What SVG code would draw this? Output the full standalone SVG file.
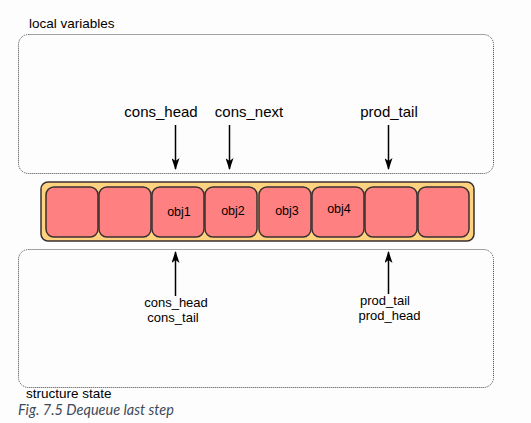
<svg xmlns="http://www.w3.org/2000/svg" width="531" height="423" viewBox="0 0 531 423">
<style>
text{font-family:"Liberation Sans",Arial,sans-serif;fill:#000}
.region{fill:none;stroke:#444;stroke-width:1;stroke-dasharray:1 1}
.cell{fill:#FF8080;stroke:#3a3030;stroke-width:1.5}
.obj{font-size:12.5px;text-anchor:middle}
.var{font-size:15px;text-anchor:middle}
.svar{font-size:13px;text-anchor:middle}
.arr{stroke:#000;stroke-width:1.5;fill:none;marker-end:url(#ah)}
</style>
<defs>
<marker id="ah" viewBox="0 0 12 8" refX="11" refY="4" markerWidth="12" markerHeight="8" markerUnits="userSpaceOnUse" orient="auto">
<path d="M0,0 L12,4 L0,8 L3,4 Z" fill="#000"/>
</marker>
</defs>
<rect width="531" height="423" fill="#fdfdfd"/>
<g id="local-variables">
<rect class="region" x="18.5" y="34.5" width="475" height="139" rx="10"/>
<text x="29" y="28" font-size="13.5">local variables</text>
</g>
<g id="structure-state">
<rect class="region" x="18.5" y="249.5" width="475" height="138" rx="10"/>
<text x="26" y="398" font-size="13.5">structure state</text>
</g>
<g id="buffer">
<rect x="41" y="182" width="433" height="59" rx="7" fill="#FFD280" stroke="#3a3030" stroke-width="1.5"/>
</g>
<g id="cell0"><rect class="cell" x="46" y="187" width="52" height="50" rx="8"/></g>
<g id="cell1"><rect class="cell" x="99" y="187" width="52" height="50" rx="8"/></g>
<g id="cell2"><rect class="cell" x="152" y="187" width="52" height="50" rx="8"/><text class="obj" x="179" y="216">obj1</text></g>
<g id="cell3"><rect class="cell" x="205" y="187" width="52" height="50" rx="8"/><text class="obj" x="233" y="215">obj2</text></g>
<g id="cell4"><rect class="cell" x="259" y="187" width="52" height="50" rx="8"/><text class="obj" x="287" y="215">obj3</text></g>
<g id="cell5"><rect class="cell" x="312" y="187" width="52" height="50" rx="8"/><text class="obj" x="339" y="213">obj4</text></g>
<g id="cell6"><rect class="cell" x="365" y="187" width="52" height="50" rx="8"/></g>
<g id="cell7"><rect class="cell" x="418" y="187" width="51" height="50" rx="8"/></g>
<g id="var-cons-head"><text class="var" x="161" y="117">cons_head</text></g>
<g id="var-cons-next"><text class="var" x="249" y="117">cons_next</text></g>
<g id="var-prod-tail"><text class="var" x="389" y="117">prod_tail</text></g>
<g id="state-cons"><text class="svar" x="176" y="307">cons_head</text><text class="svar" x="173" y="322">cons_tail</text></g>
<g id="state-prod"><text class="svar" x="385" y="305">prod_tail</text><text class="svar" x="389.5" y="320">prod_head</text></g>
<g id="connectors">
<line class="arr" x1="175.5" y1="125" x2="175.5" y2="169"/>
<line class="arr" x1="229.5" y1="125" x2="229.5" y2="169"/>
<line class="arr" x1="388.5" y1="125" x2="388.5" y2="169"/>
<line class="arr" x1="175.5" y1="296" x2="175.5" y2="252"/>
<line class="arr" x1="388.5" y1="294" x2="388.5" y2="252"/>
</g>
<text x="18" y="415" font-size="14.5" font-style="italic" style="font-family:Lato,'Open Sans',sans-serif;fill:#3e4a5a">Fig. 7.5 Dequeue last step</text>
</svg>
